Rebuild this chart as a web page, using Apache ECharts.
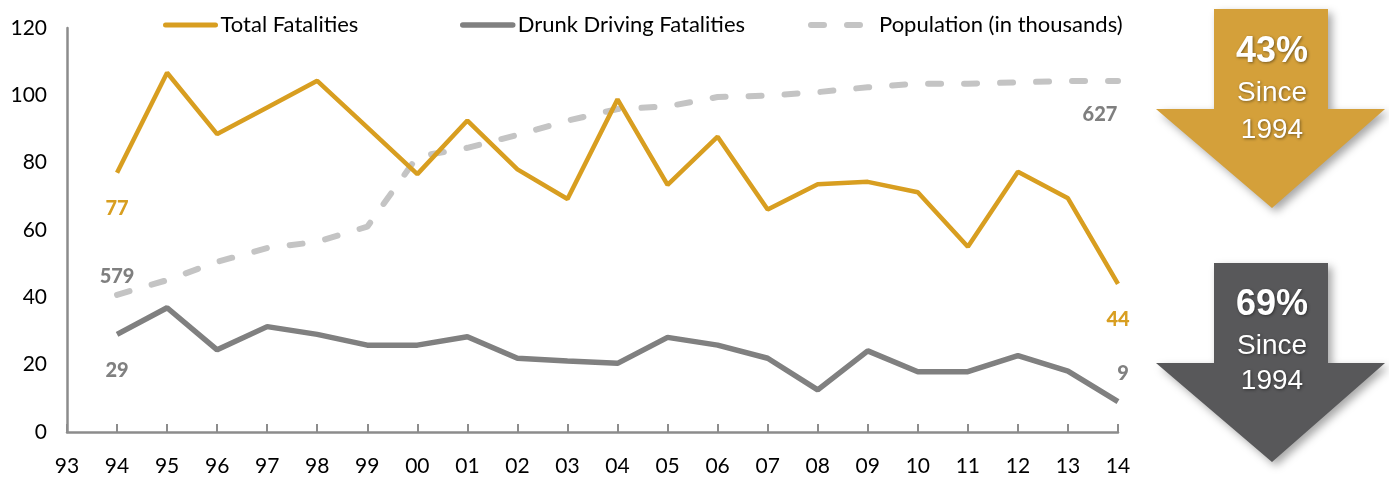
<!DOCTYPE html>
<html>
<head>
<meta charset="utf-8">
<script src="https://cdn.jsdelivr.net/npm/echarts@6/dist/echarts.min.js"></script>
<style>
html,body{margin:0;padding:0;background:#fff;}
#chart{width:1389px;height:477px;}
</style>
</head>
<body>
<div id="chart"></div>
<script>
const years = ['93','94','95','96','97','98','99','00','01','02','03','04','05','06','07','08','09','10','11','12','13','14'];
const totalFatalities = [null, 77, 106.7, 88.5, 96.4, 104.3, 90.5, 76.6, 92.5, 78, 69.2, 98.8, 73.4, 87.7, 66.1, 73.6, 74.3, 71.2, 55, 77.3, 69.4, 44];
const drunkFatalities = [null, 29, 36.9, 24.4, 31.3, 29.0, 25.8, 25.8, 28.3, 21.9, 21.1, 20.4, 28.1, 25.8, 21.9, 12.5, 24.1, 17.9, 17.9, 22.7, 18.1, 9];
const population = [null, 579, 582.3, 586.4, 589.5, 590.9, 594.3, 610.0, 612.0, 614.9, 618.1, 620.7, 621.3, 623.4, 623.7, 624.5, 625.6, 626.4, 626.4, 626.7, 627, 627];
const seriesNames = ['Total Fatalities', 'Drunk Driving Fatalities', 'Population (in thousands)'];
const yMin = 0, yMax = 120, yInterval = 20;
const popAxisMin = 548.2, popAxisMax = 638.9;
const arrowTexts = [['43%', 'Since', '1994'], ['69%', 'Since', '1994']];

const GOLD = '#D89E20';
const GRAY = '#808080';
const POP = '#C4C4C4';
const FONT = 'Lato, "Open Sans", sans-serif';

function withEndLabels(arr, firstLabel, lastLabel) {
  const first = arr.findIndex(v => v !== null);
  const last = arr.length - 1;
  return arr.map((v, i) => {
    if (i === first) return { value: v, label: Object.assign({ show: true }, firstLabel) };
    if (i === last) return { value: v, label: Object.assign({ show: true }, lastLabel) };
    return v;
  });
}
const lblBase = { fontFamily: FONT, fontSize: 20, fontWeight: 900, formatter: p => Math.round(p.value) };

const chart = echarts.init(document.getElementById('chart'), null, { renderer: 'canvas' });

function arrow(top, color) {
  return {
    type: 'polygon',
    shape: { points: [[1214, top], [1328, top], [1328, top + 100], [1385, top + 100], [1272, top + 199], [1156, top + 100], [1214, top + 100]] },
    style: { fill: color, shadowBlur: 8, shadowOffsetX: 4, shadowOffsetY: 4, shadowColor: 'rgba(0,0,0,0.35)' },
    z: 10
  };
}
function txt(t, x, y, size, bold) {
  return {
    type: 'text', z: 11,
    style: {
      text: t, x: x, y: y, fill: '#fff', align: 'center', verticalAlign: 'middle',
      font: (bold ? 'bold ' : '') + size + 'px "Liberation Sans", Arial, sans-serif',
      textShadowBlur: 3, textShadowColor: 'rgba(0,0,0,0.45)', textShadowOffsetX: 1, textShadowOffsetY: 1
    }
  };
}

const legendCommon = {
  orient: 'horizontal', top: 9, itemWidth: 50, itemHeight: 14,
  textStyle: { fontFamily: FONT, fontSize: 22, color: '#000' },
  itemStyle: { opacity: 0, borderWidth: 0 },
  selectedMode: false
};

chart.setOption({
  animation: false,
  backgroundColor: '#fff',
  legend: [
    Object.assign({}, legendCommon, { left: 158, data: [seriesNames[0]], lineStyle: { width: 5, color: GOLD, cap: 'round' } }),
    Object.assign({}, legendCommon, { left: 455, data: [seriesNames[1]], lineStyle: { width: 5.5, color: GRAY, cap: 'round' } }),
    Object.assign({}, legendCommon, { left: 803, itemWidth: 63, data: [seriesNames[2]], lineStyle: { width: 6, color: POP, type: [13, 23], cap: 'round' } })
  ],
  grid: { left: 67, right: 271, top: 28, bottom: 45, containLabel: false, outerBoundsMode: 'none' },
  xAxis: {
    type: 'category', data: years, boundaryGap: false,
    axisLine: { lineStyle: { color: '#8C8C8C', width: 2.5 } },
    axisTick: { show: true, inside: true, length: 8, lineStyle: { color: '#8C8C8C', width: 2 } },
    axisLabel: { fontFamily: FONT, fontSize: 21, color: '#000', margin: 24 },
    splitLine: { show: false }
  },
  yAxis: [
    {
      type: 'value', min: yMin, max: yMax, interval: yInterval,
      axisLine: { show: true, lineStyle: { color: '#8C8C8C', width: 2.5 } },
      axisTick: { show: false },
      axisLabel: { fontFamily: FONT, fontSize: 21, color: '#000', margin: 20 },
      splitLine: { show: false }
    },
    {
      type: 'value', min: popAxisMin, max: popAxisMax, show: false,
      splitLine: { show: false }
    }
  ],
  series: [
    {
      name: seriesNames[2], type: 'line', yAxisIndex: 1, symbol: 'circle', symbolSize: 0, showSymbol: true, z: 2,
      lineStyle: { color: POP, width: 6, type: [13, 23], cap: 'round' },
      itemStyle: { color: POP },
      data: withEndLabels(population,
        Object.assign({}, lblBase, { color: '#7F7F7F', position: 'top', distance: 8 }),
        Object.assign({}, lblBase, { color: '#7F7F7F', position: 'bottom', distance: 24, offset: [-18, 0] }))
    },
    {
      name: seriesNames[1], type: 'line', symbol: 'circle', symbolSize: 0, showSymbol: true, z: 3,
      lineStyle: { color: GRAY, width: 5.5 },
      itemStyle: { color: GRAY },
      data: withEndLabels(drunkFatalities,
        Object.assign({}, lblBase, { color: GRAY, position: 'bottom', distance: 26 }),
        Object.assign({}, lblBase, { color: GRAY, position: 'top', distance: 18, offset: [5, 0] }))
    },
    {
      name: seriesNames[0], type: 'line', symbol: 'circle', symbolSize: 0, showSymbol: true, z: 4,
      lineStyle: { color: GOLD, width: 4.5 },
      itemStyle: { color: GOLD },
      data: withEndLabels(totalFatalities,
        Object.assign({}, lblBase, { color: GOLD, position: 'bottom', distance: 26 }),
        Object.assign({}, lblBase, { color: GOLD, position: 'bottom', distance: 26 }))
    }
  ],
  graphic: [
    arrow(9, '#D4A03A'),
    txt(arrowTexts[0][0], 1272, 52, 36, true),
    txt(arrowTexts[0][1], 1272, 93, 28, false),
    txt(arrowTexts[0][2], 1272, 130, 28, false),
    arrow(263, '#58585A'),
    txt(arrowTexts[1][0], 1272, 305, 36, true),
    txt(arrowTexts[1][1], 1272, 346, 28, false),
    txt(arrowTexts[1][2], 1272, 381, 28, false)
  ]
});
</script>
</body>
</html>
